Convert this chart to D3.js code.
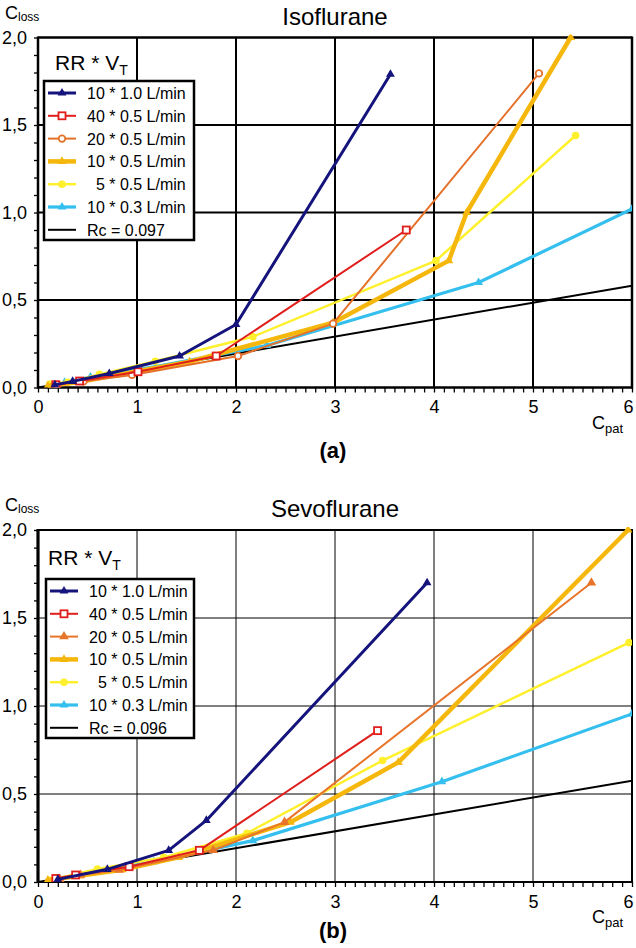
<!DOCTYPE html>
<html><head><meta charset="utf-8">
<script src="https://cdn.jsdelivr.net/npm/d3@7"></script>
<style>
html,body{margin:0;padding:0;background:#fff;}
text{font-family:"Liberation Sans",Arial,Helvetica,sans-serif;fill:#000;}
</style></head>
<body>
<svg id="chart" width="636" height="948"></svg>
<script>
// ---------- DATA ----------
const seriesNames = ["10 * 1.0 L/min","40 * 0.5 L/min","20 * 0.5 L/min","10 * 0.5 L/min","  5 * 0.5 L/min","10 * 0.3 L/min"];
const xTicks = [0,1,2,3,4,5,6];
const yTicks = [0,0.5,1.0,1.5,2.0];
const yTickLabels = ["0,0","0,5","1,0","1,5","2,0"];

// Panel (a) Isoflurane
const isoNavy   = [[0.17,0.015],[0.35,0.035],[0.72,0.08],[1.43,0.18],[2.0,0.36],[3.56,1.79]];
const isoRed    = [[0.18,0.016],[0.42,0.037],[1.01,0.09],[1.8,0.18],[3.72,0.9]];
const isoOrange = [[0.2,0.015],[0.46,0.035],[0.95,0.072],[2.02,0.18],[2.98,0.365],[5.06,1.795]];
const isoGold   = [[0.1,0.01],[0.4,0.03],[0.78,0.07],[1.53,0.147],[2.98,0.37],[4.15,0.725],[4.33,1.0],[5.38,2.0]];
const isoYellow = [[0.12,0.02],[0.3,0.03],[0.62,0.075],[1.185,0.15],[2.17,0.29],[4.02,0.725],[5.43,1.44]];
const isoCyan   = [[0.27,0.03],[0.53,0.06],[1.19,0.12],[2.31,0.24],[4.45,0.6],[6.0,1.02]];
const isoRc = 0.097;

// Panel (b) Sevoflurane
const sevoNavy   = [[0.2,0.015],[0.7,0.072],[1.32,0.18],[1.7,0.35],[3.93,1.7]];
const sevoRed    = [[0.18,0.02],[0.38,0.04],[0.92,0.087],[1.63,0.18],[3.43,0.86]];
const sevoOrange = [[0.22,0.015],[0.43,0.04],[0.82,0.068],[1.77,0.18],[2.49,0.34],[5.59,1.70]];
const sevoGold   = [[0.1,0.01],[0.42,0.035],[0.85,0.07],[1.42,0.14],[2.55,0.34],[3.64,0.68],[5.96,2.0]];
const sevoYellow = [[0.12,0.01],[0.6,0.074],[1.27,0.14],[2.11,0.277],[3.48,0.69],[5.97,1.36]];
const sevoCyan   = [[0.215,0.02],[0.61,0.064],[1.17,0.115],[2.17,0.235],[4.08,0.57],[6.0,0.955]];
const sevoRc = 0.096;

// ---------- STYLES ----------
const styles = [
  {color:"#14147c", width:3,   marker:"tri",  size:34},
  {color:"#e01f1c", width:2,   marker:"square"},
  {color:"#e4712a", width:2,   marker:"circleOpen"},
  {color:"#f6b70c", width:4.5, marker:"tri",  size:34},
  {color:"#fff02e", width:2.5, marker:"circle"},
  {color:"#35bfee", width:3.2, marker:"tri",  size:34}
];

const svg = d3.select("#chart");

function drawPanel(o){
  const x = d3.scaleLinear().domain([0,6]).range([38,632]);
  const y = d3.scaleLinear().domain([0,2]).range([o.yBottom,o.yTop]);
  const g = svg.append("g");
  const clipId = "clip"+o.id;
  svg.append("clipPath").attr("id",clipId).append("rect")
    .attr("x",38).attr("y",o.yTop-3).attr("width",594).attr("height",o.yBottom-o.yTop+3);

  // grid
  g.append("g").selectAll("line").data([1,2,3,4,5]).join("line")
    .attr("x1",d=>x(d)).attr("x2",d=>x(d)).attr("y1",o.yTop).attr("y2",o.yBottom)
    .attr("stroke","#000").attr("stroke-width",o.gridW);
  g.append("g").selectAll("line").data([0.5,1.0,1.5]).join("line")
    .attr("x1",38).attr("x2",632).attr("y1",d=>y(d)).attr("y2",d=>y(d))
    .attr("stroke","#000").attr("stroke-width",o.gridW);

  // axes (minor ticks every 0.1)
  const xAxis = d3.axisBottom(x).tickValues(d3.range(0,61).map(i=>i/10))
    .tickSize(5).tickPadding(8)
    .tickFormat(d=> Math.abs(d-Math.round(d))<1e-9 ? String(Math.round(d)) : "");
  const gx = g.append("g").attr("transform",`translate(0,${o.yBottom})`).call(xAxis);
  gx.select(".domain").remove();
  gx.selectAll(".tick line").attr("stroke","#000").attr("stroke-width",1.3);
  gx.selectAll("text").attr("font-size",18).style("font-family","Liberation Sans, Arial, sans-serif");
  // keep the last label ("6") inside the page
  gx.selectAll(".tick text").filter(d=>Math.abs(d-6)<1e-9).attr("x",-4);

  const yAxis = d3.axisLeft(y).tickValues(d3.range(0,21).map(i=>i/10))
    .tickSize(4).tickPadding(7)
    .tickFormat(d=>{const i=yTicks.findIndex(t=>Math.abs(t-d)<1e-9);return i>=0?yTickLabels[i]:"";});
  const gy = g.append("g").attr("transform","translate(38,0)").call(yAxis);
  gy.select(".domain").remove();
  gy.selectAll(".tick line").attr("stroke","#000").attr("stroke-width",1.3);
  gy.selectAll("text").attr("font-size",18).style("font-family","Liberation Sans, Arial, sans-serif");

  // frame
  g.append("line").attr("x1",38).attr("x2",632).attr("y1",o.yTop).attr("y2",o.yTop).attr("stroke","#000").attr("stroke-width",o.frameTop);
  g.append("line").attr("x1",38).attr("x2",632).attr("y1",o.yBottom).attr("y2",o.yBottom).attr("stroke","#000").attr("stroke-width",o.frameBottom);
  g.append("line").attr("x1",38).attr("x2",38).attr("y1",o.yTop-1).attr("y2",o.yBottom+1).attr("stroke","#000").attr("stroke-width",o.frameLeft);
  g.append("line").attr("x1",632).attr("x2",632).attr("y1",o.yTop-1).attr("y2",o.yBottom+1).attr("stroke","#000").attr("stroke-width",o.frameRight);

  const line = d3.line().x(d=>x(d[0])).y(d=>y(d[1]));
  const plot = g.append("g").attr("clip-path",`url(#${clipId})`);

  // Rc line
  plot.append("path").attr("d",line([[0,0],[6,6*o.rc]]))
    .attr("fill","none").attr("stroke","#000").attr("stroke-width",2);

  const order = [5,4,3,2,1,0];
  order.forEach(i=>{
    const st = o.styles[i], data = o.series[i];
    plot.append("path").attr("d",line(data)).attr("fill","none")
      .attr("stroke",st.color).attr("stroke-width",st.width).attr("stroke-linejoin","round");
    data.forEach(d=>drawMarker(plot, x(d[0]), y(d[1]), st));
  });

  // texts
  g.append("text").attr("x",335).attr("y",o.yTop-13).attr("text-anchor","middle")
    .attr("font-size",24).text(o.title);
  const cl = g.append("text").attr("x",5).attr("y",o.yTop-19).attr("font-size",18);
  cl.append("tspan").text("C");
  cl.append("tspan").attr("font-size",12).attr("dy",2).text("loss");
  const cp = g.append("text").attr("x",592).attr("y",o.yBottom+41).attr("font-size",18);
  cp.append("tspan").text("C");
  cp.append("tspan").attr("font-size",13).attr("dy",4).text("pat");
  g.append("text").attr("x",333).attr("y",o.labelY).attr("text-anchor","middle")
    .attr("font-size",22).attr("font-weight","bold").text(o.label);

  // legend
  const L = o.legend;
  const rr = g.append("text").attr("x",L.rrX).attr("y",L.rrY).attr("font-size",21);
  rr.append("tspan").text("RR * V");
  rr.append("tspan").attr("font-size",14).attr("dy",5).text("T");
  g.append("rect").attr("x",L.x).attr("y",L.y).attr("width",L.w).attr("height",L.h)
    .attr("fill","#fff").attr("stroke","#000").attr("stroke-width",2.5);
  const names = seriesNames.concat([o.rcLabel]);
  names.forEach((nm,i)=>{
    const cy = L.y+12+i*22.8;
    const st = i<6 ? o.styles[i] : {color:"#000",width:2,marker:null};
    g.append("line").attr("x1",L.x+4).attr("x2",L.x+32).attr("y1",cy).attr("y2",cy)
      .attr("stroke",st.color).attr("stroke-width",st.width);
    if(st.marker) drawMarker(g, L.x+18, cy, st);
    g.append("text").attr("x",L.x+43).attr("y",cy+6).attr("font-size",16)
      .attr("xml:space","preserve").style("white-space","pre").text(nm);
  });
}

function drawMarker(sel, cx, cy, st){
  if(st.marker==="tri"){
    sel.append("path").attr("d",d3.symbol(d3.symbolTriangle, st.size||30)())
      .attr("transform",`translate(${cx},${cy})`).attr("fill",st.color);
  } else if(st.marker==="square"){
    sel.append("rect").attr("x",cx-3.5).attr("y",cy-3.5).attr("width",7).attr("height",7)
      .attr("fill","#fff").attr("stroke",st.color).attr("stroke-width",1.8);
  } else if(st.marker==="circleOpen"){
    sel.append("circle").attr("cx",cx).attr("cy",cy).attr("r",3.3)
      .attr("fill","#fff").attr("stroke",st.color).attr("stroke-width",1.8);
  } else if(st.marker==="circle"){
    sel.append("circle").attr("cx",cx).attr("cy",cy).attr("r",3.8).attr("fill",st.color);
  }
}

const stylesB = styles.map((s,i)=> i===2 ? {color:"#e8742a",width:2,marker:"tri",size:40} : s);

drawPanel({id:"a", yTop:37.5, yBottom:387.5, title:"Isoflurane", label:"(a)", labelY:458,
  gridW:2, frameTop:2.5, frameBottom:2.5, frameLeft:2.5, frameRight:2.5,
  rc:isoRc, rcLabel:"Rc = 0.097", styles:styles,
  series:[isoNavy,isoRed,isoOrange,isoGold,isoYellow,isoCyan],
  legend:{x:44,y:81,w:150,h:159,rrX:55,rrY:70}});

drawPanel({id:"b", yTop:530, yBottom:882, title:"Sevoflurane", label:"(b)", labelY:938,
  gridW:1, frameTop:2.2, frameBottom:2.2, frameLeft:3.2, frameRight:2,
  rc:sevoRc, rcLabel:"Rc = 0.096", styles:stylesB,
  series:[sevoNavy,sevoRed,sevoOrange,sevoGold,sevoYellow,sevoCyan],
  legend:{x:46,y:579,w:148,h:159,rrX:48,rrY:565}});
</script>
</body></html>
